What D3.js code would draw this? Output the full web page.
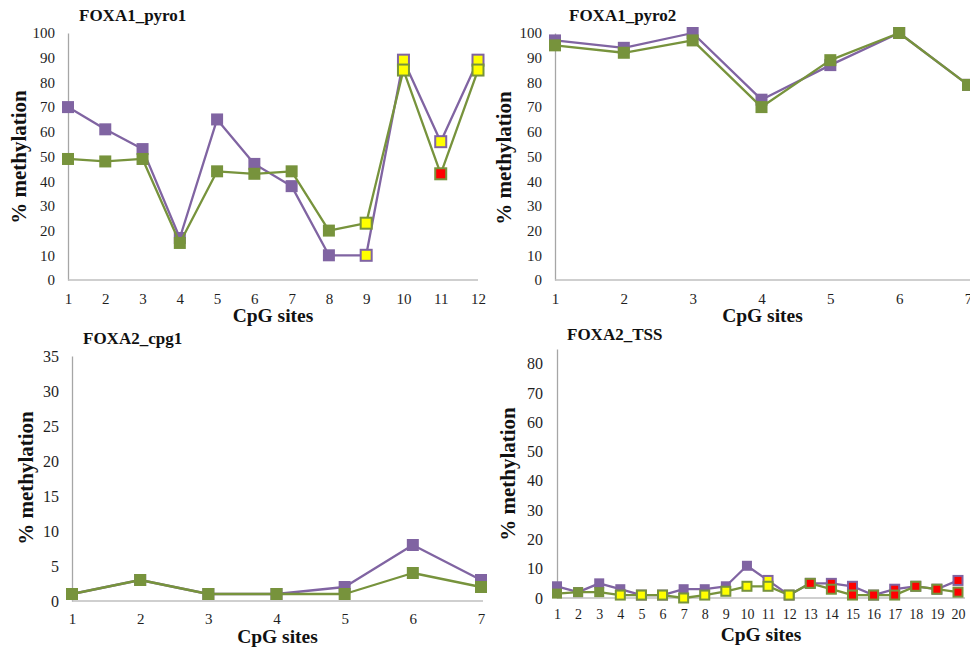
<!DOCTYPE html>
<html>
<head>
<meta charset="utf-8">
<script src="https://cdn.jsdelivr.net/npm/d3@7"></script>
<style>
html,body{margin:0;padding:0;background:#fff;}
svg{display:block;}
text{font-family:"Liberation Serif","Times New Roman",serif;}
</style>
</head>
<body>
<svg id="chart" width="970" height="653"></svg>
<script>
// ---------- DATA ----------
// Marker flags: 0 = normal, 1 = yellow highlight, 2 = red highlight
const pyro1Sites = [1,2,3,4,5,6,7,8,9,10,11,12];
const pyro1Purple = [70,61,53,17,65,47,38,10,10,89,56,89];
const pyro1Green  = [49,48,49,15,44,43,44,20,23,85,43,85];
const pyro1PurpleFlag = [0,0,0,0,0,0,0,0,1,1,1,1];
const pyro1GreenFlag  = [0,0,0,0,0,0,0,0,1,1,2,1];
const pyro1YTicks = [0,10,20,30,40,50,60,70,80,90,100];

const pyro2Sites = [1,2,3,4,5,6,7];
const pyro2Purple = [97,94,100,73,87,100,79];
const pyro2Green  = [95,92,97,70,89,100,79];
const pyro2PurpleFlag = [0,0,0,0,0,0,0];
const pyro2GreenFlag  = [0,0,0,0,0,0,0];
const pyro2YTicks = [0,10,20,30,40,50,60,70,80,90,100];

const cpg1Sites = [1,2,3,4,5,6,7];
const cpg1Purple = [1,3,1,1,2,8,3];
const cpg1Green  = [1,3,1,1,1,4,2];
const cpg1PurpleFlag = [0,0,0,0,0,0,0];
const cpg1GreenFlag  = [0,0,0,0,0,0,0];
const cpg1YTicks = [0,5,10,15,20,25,30,35];

const tssSites = [1,2,3,4,5,6,7,8,9,10,11,12,13,14,15,16,17,18,19,20];
const tssPurple = [4,2,5,3,1,1,3,3,4,11,6,1,5,5,4,1,3,4,3,6];
const tssGreen  = [1.5,2,2,1,1,1,0,1,2.3,4,4,1,5,3,1,1,1,4,3,2];
const tssPurpleFlag = [0,0,0,0,1,1,0,0,0,0,1,1,2,2,2,2,2,2,2,2];
const tssGreenFlag  = [0,0,0,1,1,1,1,1,1,1,1,1,2,2,2,2,2,2,2,2];
const tssYTicks = [0,10,20,30,40,50,60,70,80];

// ---------- LAYOUT ----------
const PURPLE = "#8064A2", GREEN = "#77933C", YELLOW = "#FFFF00", RED = "#FF0000";
const panels = [
  {title:"FOXA1_pyro1", sites:pyro1Sites, purple:pyro1Purple, green:pyro1Green, pf:pyro1PurpleFlag, gf:pyro1GreenFlag, yTicks:pyro1YTicks, yMax:100,
   x0:68, x1:478, axisEnd:478, y0:280, yTop:33, titleX:79, titleY:21, ylabX:19, ylabY:157, xTickPad:13, yTickPad:13, xlabY:322, ms:12, xfs:15, yfs:15},
  {title:"FOXA1_pyro2", sites:pyro2Sites, purple:pyro2Purple, green:pyro2Green, pf:pyro2PurpleFlag, gf:pyro2GreenFlag, yTicks:pyro2YTicks, yMax:100,
   x0:555, x1:968, axisEnd:975, y0:280, yTop:33, titleX:569, titleY:21, ylabX:504, ylabY:158, xTickPad:13, yTickPad:13, xlabY:322, ms:12, xfs:15, yfs:15},
  {title:"FOXA2_cpg1", sites:cpg1Sites, purple:cpg1Purple, green:cpg1Green, pf:cpg1PurpleFlag, gf:cpg1GreenFlag, yTicks:cpg1YTicks, yMax:35,
   x0:72, x1:481, axisEnd:483, y0:601, yTop:356, titleX:83, titleY:344, ylabX:26, ylabY:478, xTickPad:12, yTickPad:13, xlabY:643, ms:12, xfs:15, yfs:16},
  {title:"FOXA2_TSS", sites:tssSites, purple:tssPurple, green:tssGreen, pf:tssPurpleFlag, gf:tssGreenFlag, yTicks:tssYTicks, yMax:85,
   x0:557, x1:958, axisEnd:965, y0:598, yTop:349, titleX:567, titleY:340, ylabX:508, ylabY:474, xTickPad:11, yTickPad:14, xlabY:641, ms:10, xfs:14, yfs:16}
];

const svg = d3.select("#chart");

panels.forEach(p => {
  const g = svg.append("g");
  const x = d3.scaleLinear().domain([p.sites[0], p.sites[p.sites.length-1]]).range([p.x0, p.x1]);
  const y = d3.scaleLinear().domain([0, p.yMax]).range([p.y0, p.yTop]);

  // y axis
  const ya = g.append("g").attr("transform", `translate(${p.x0},0)`)
    .call(d3.axisLeft(y).tickValues(p.yTicks).tickSize(0).tickPadding(p.yTickPad).tickFormat(d3.format("d")));
  ya.select(".domain").attr("stroke", "#a6a6a6").attr("stroke-width", 1.3);
  ya.selectAll("text").attr("font-size", p.yfs).attr("fill", "#1e1e1e").attr("font-family", '"Liberation Serif",serif');

  // x axis
  const xa = g.append("g").attr("transform", `translate(0,${p.y0})`)
    .call(d3.axisBottom(x).tickValues(p.sites).tickSize(0).tickPadding(p.xTickPad).tickFormat(d3.format("d")));
  xa.select(".domain").attr("d", `M${p.x0},0H${p.axisEnd}`).attr("stroke", "#bfbfbf").attr("stroke-width", 1.3);
  xa.selectAll("text").attr("font-size", p.xfs).attr("fill", "#1e1e1e").attr("font-family", '"Liberation Serif",serif');

  // series
  const series = [
    {vals:p.purple, flags:p.pf, color:PURPLE},
    {vals:p.green, flags:p.gf, color:GREEN}
  ];
  series.forEach(s => {
    const line = d3.line().x((d,i) => x(p.sites[i])).y(d => y(d));
    g.append("path").datum(s.vals).attr("d", line)
      .attr("fill", "none").attr("stroke", s.color).attr("stroke-width", 2.3).attr("stroke-linejoin", "round");
    const ms = p.ms;
    g.selectAll(null).data(s.vals.map((v,i) => ({v, i, f:s.flags[i]}))).enter()
      .append("rect")
      .attr("x", d => x(p.sites[d.i]) - ms/2 + (d.f ? 0.5 : 0))
      .attr("y", d => y(d.v) - ms/2 + (d.f ? 0.5 : 0))
      .attr("width", d => d.f ? ms - 1 : ms)
      .attr("height", d => d.f ? ms - 1 : ms)
      .attr("fill", d => d.f === 1 ? YELLOW : d.f === 2 ? RED : s.color)
      .attr("stroke", s.color)
      .attr("stroke-width", d => d.f ? 2 : 0);
  });

  // titles
  g.append("text").attr("x", p.titleX).attr("y", p.titleY).text(p.title)
    .attr("font-size", 17).attr("font-weight", "bold").attr("fill", "#111");
  g.append("text").attr("transform", `translate(${p.ylabX},${p.ylabY}) rotate(-90)`)
    .attr("text-anchor", "middle").attr("dy", "0.35em").text("% methylation")
    .attr("font-size", 21).attr("font-weight", "bold").attr("fill", "#111");
  g.append("text").attr("x", (p.x0 + Math.min(p.axisEnd, 970)) / 2).attr("y", p.xlabY)
    .attr("text-anchor", "middle").text("CpG sites")
    .attr("font-size", 19.5).attr("font-weight", "bold").attr("fill", "#111");
});
</script>
</body>
</html>
